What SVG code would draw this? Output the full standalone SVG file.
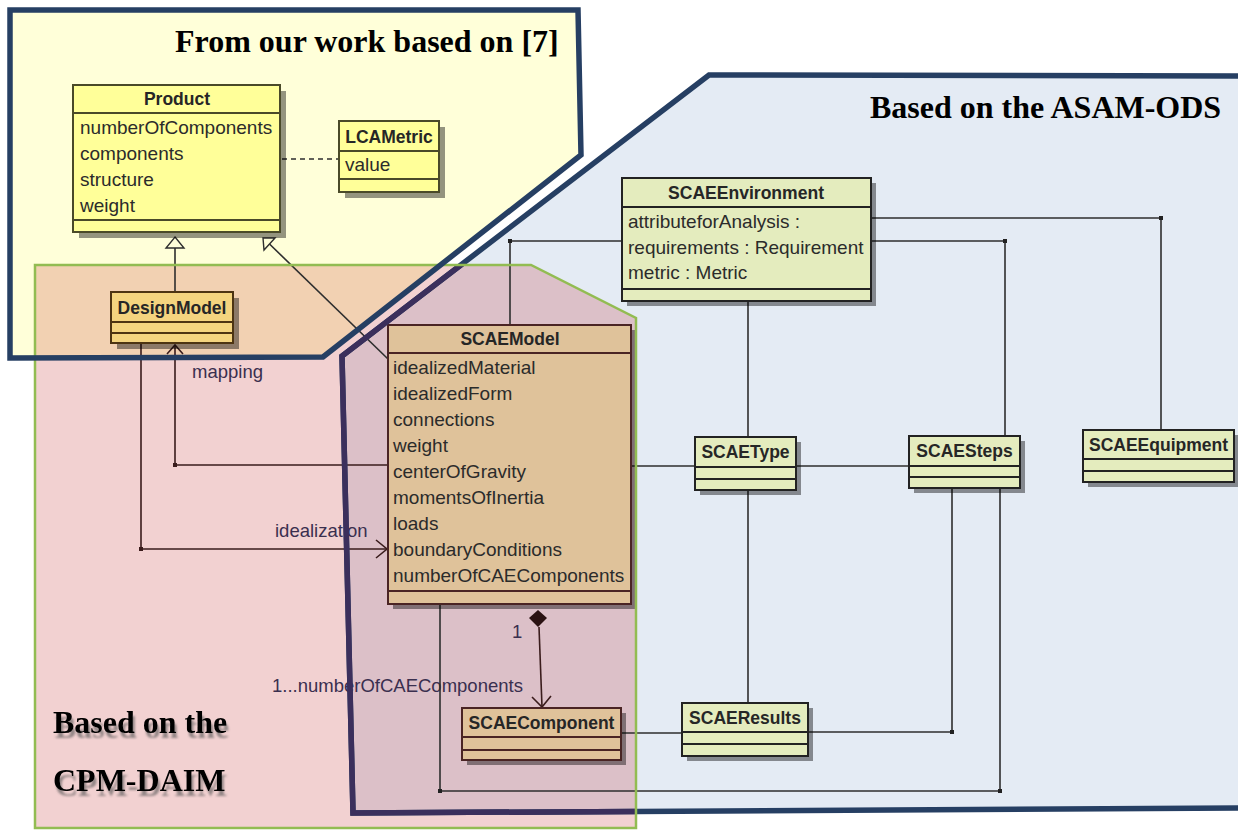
<svg xmlns="http://www.w3.org/2000/svg" width="1238" height="831" viewBox="0 0 1238 831">
  <style>
    .hdr { font-family: "Liberation Sans", Arial, sans-serif; font-size: 17.5px; font-weight: bold; fill: #262626; text-anchor: middle; }
    .attr { font-family: "Liberation Sans", Arial, sans-serif; font-size: 19px; fill: #2b2b2b; }
    .lbl { font-family: "Liberation Sans", Arial, sans-serif; font-size: 18.5px; fill: #3a2f4f; }
    .title { font-family: "Liberation Serif", "Times New Roman", serif; font-size: 32px; font-weight: bold; fill: #000; }
    .shadow { fill: #000; opacity: 0.42; }
    .sep { stroke-width: 2; }
    .cls-y rect.box { fill: #FFFF99; stroke: #4a4a28; stroke-width: 2; }
    .cls-y line { stroke: #4a4a28; }
    .cls-g rect.box { fill: #F4D47F; stroke: #4d3412; stroke-width: 2; }
    .cls-g line { stroke: #4d3412; }
    .cls-t rect.box { fill: #DFC29A; stroke: #4a2424; stroke-width: 2; }
    .cls-t line { stroke: #4a2424; }
    .cls-l rect.box { fill: #E4ECBE; stroke: #222; stroke-width: 2; }
    .cls-l line { stroke: #222; }
    .wire { fill: none; stroke: #2e2e2e; stroke-width: 1.6; }
    .wire-p { fill: none; stroke: #3a1c1c; stroke-width: 1.6; }
    .dot { fill: #222; }
    .dot-p { fill: #3a1c1c; }
  </style>
  <defs>
    <clipPath id="pinkArea">
      <path d="M35,265 L531,265 L636,318 L636,828 L35,828 Z"/>
    </clipPath>
    <!-- soft grey drop shadow for the CPM-DAIM heading -->
    <filter id="textShadow" x="-10%" y="-30%" width="130%" height="170%">
      <feGaussianBlur in="SourceAlpha" stdDeviation="1.3" result="blur"/>
      <feOffset in="blur" dx="2" dy="5" result="off"/>
      <feFlood flood-color="#555" flood-opacity="0.6"/>
      <feComposite in2="off" operator="in" result="shade"/>
      <feMerge>
        <feMergeNode in="shade"/>
        <feMergeNode in="SourceGraphic"/>
      </feMerge>
    </filter>
  </defs>

  <rect width="1238" height="831" fill="#FFFFFF"/>

  <!-- package backgrounds -->
  <g id="region-fills">
    <path d="M10,10 L578,10 L581,155 L323,357 L10,358 Z" fill="#FFFFD9"/>
    <path d="M709,75 L1250,76 L1250,808 L353,813 L342,356 Z" fill="#E4EBF4"/>
    <path d="M35,265 L531,265 L636,318 L636,828 L35,828 Z" fill="#B70000" fill-opacity="0.18"/>
  </g>

  <!-- package titles -->
  <g id="titles">
    <text class="title" x="175" y="52">From our work based on [7]</text>
    <text class="title" x="870" y="118">Based on the ASAM-ODS</text>
    <text class="title" x="53" y="733" filter="url(#textShadow)">Based on the</text>
    <text class="title" x="53" y="791" filter="url(#textShadow)">CPM-DAIM</text>
  </g>

  <!-- associations, generalizations and composition -->
  <g id="connectors">
    <!-- DesignModel generalizes Product -->
    <path class="wire" d="M175,292 V248"/>
    <path d="M175,237 L184,248 L166,248 Z" fill="#FFFFD9" stroke="#2e2e2e" stroke-width="1.4"/>
    <!-- SCAEModel generalizes Product -->
    <path class="wire" d="M388,359 L269.5,244"/>
    <path d="M263,238 L275,238 L264,250 Z" fill="#FFFFD9" stroke="#2e2e2e" stroke-width="1.4"/>
    <!-- Product to LCAMetric -->
    <path class="wire" d="M282,159 H339" stroke-dasharray="5,4"/>

    <!-- mapping -->
    <path class="wire-p" d="M388,465 H175 V345"/>
    <path class="wire-p" d="M167,354 L175,345 L183,354"/>
    <rect class="dot-p" x="173" y="463" width="4" height="4"/>
    <text class="lbl" x="192" y="378">mapping</text>

    <!-- idealization -->
    <path class="wire-p" d="M141,343 V549 H387"/>
    <path class="wire-p" d="M376,540 L387,549 L376,558"/>
    <rect class="dot-p" x="139" y="547" width="4" height="4"/>
    <text class="lbl" x="275" y="537">idealization</text>

    <!-- composition SCAEModel to SCAEComponent -->
    <path d="M538,610 L547,618 L538,627 L529,618 Z" fill="#2a1212"/>
    <path class="wire-p" d="M539,627 L542,707"/>
    <path class="wire-p" d="M532,697 L542,707 L551,696"/>
    <text class="lbl" x="512" y="638">1</text>
    <text class="lbl" x="272" y="692">1...numberOfCAEComponents</text>

    <!-- SCAEEnvironment links -->
    <path class="wire" d="M622,241 H510 V325"/>
    <rect class="dot" x="508" y="239" width="4" height="4"/>
    <path class="wire" d="M871,218 H1161 V430"/>
    <rect class="dot" x="1159" y="216" width="4" height="4"/>
    <path class="wire" d="M871,241 H1005 V436"/>
    <rect class="dot" x="1003" y="239" width="4" height="4"/>
    <path class="wire" d="M748,301 V437"/>

    <!-- SCAEType links -->
    <path class="wire" d="M748,490 V703"/>
    <path class="wire" d="M631,466 H695"/>
    <path class="wire" d="M796,466 H909"/>

    <!-- SCAESteps links -->
    <path class="wire" d="M952,488 V732 H808"/>
    <rect class="dot" x="950" y="730" width="4" height="4"/>
    <path class="wire" d="M621,733 H682"/>
    <path class="wire" d="M440,604 V791 H1000 V488"/>
    <rect class="dot" x="438" y="789" width="4" height="4"/>
    <rect class="dot" x="998" y="789" width="4" height="4"/>
  </g>

  <!-- classes -->
  <g id="Product" class="cls-y">
    <rect class="shadow" x="79" y="91" width="207" height="147"/>
    <rect class="box" x="73" y="85" width="207" height="147"/>
    <line class="sep" x1="73" y1="113" x2="280" y2="113"/>
    <line class="sep" x1="73" y1="220" x2="280" y2="220"/>
    <text class="hdr" x="177" y="105">Product</text>
    <text class="attr" x="80" y="134">numberOfComponents</text>
    <text class="attr" x="80" y="160">components</text>
    <text class="attr" x="80" y="186">structure</text>
    <text class="attr" x="80" y="212">weight</text>
  </g>

  <g id="LCAMetric" class="cls-y">
    <rect class="shadow" x="345" y="127" width="100" height="71"/>
    <rect class="box" x="339" y="121" width="100" height="71"/>
    <line class="sep" x1="339" y1="151" x2="439" y2="151"/>
    <line class="sep" x1="339" y1="179" x2="439" y2="179"/>
    <text class="hdr" x="389" y="143">LCAMetric</text>
    <text class="attr" x="345" y="171">value</text>
  </g>

  <g id="DesignModel" class="cls-g">
    <rect class="shadow" x="117" y="298" width="122" height="51"/>
    <rect class="box" x="111" y="292" width="122" height="51"/>
    <line class="sep" x1="111" y1="322" x2="233" y2="322"/>
    <line class="sep" x1="111" y1="333" x2="233" y2="333"/>
    <text class="hdr" x="172" y="314">DesignModel</text>
  </g>

  <g id="SCAEModel" class="cls-t">
    <rect class="shadow" x="393" y="330" width="243" height="279"/>
    <rect class="box" x="388" y="325" width="243" height="279"/>
    <line class="sep" x1="388" y1="353" x2="631" y2="353"/>
    <line class="sep" x1="388" y1="591" x2="631" y2="591"/>
    <text class="hdr" x="510" y="345">SCAEModel</text>
    <text class="attr" x="393" y="374">idealizedMaterial</text>
    <text class="attr" x="393" y="400">idealizedForm</text>
    <text class="attr" x="393" y="426">connections</text>
    <text class="attr" x="393" y="452">weight</text>
    <text class="attr" x="393" y="478">centerOfGravity</text>
    <text class="attr" x="393" y="504">momentsOfInertia</text>
    <text class="attr" x="393" y="530">loads</text>
    <text class="attr" x="393" y="556">boundaryConditions</text>
    <text class="attr" x="393" y="582">numberOfCAEComponents</text>
  </g>

  <g id="SCAEComponent" class="cls-t">
    <rect class="shadow" x="467" y="713" width="159" height="52"/>
    <rect class="box" x="462" y="708" width="159" height="52"/>
    <line class="sep" x1="462" y1="737" x2="621" y2="737"/>
    <line class="sep" x1="462" y1="750" x2="621" y2="750"/>
    <text class="hdr" x="541.5" y="729">SCAEComponent</text>
  </g>

  <g id="SCAEEnvironment" class="cls-l">
    <rect class="shadow" x="627" y="183" width="249" height="123"/>
    <rect class="box" x="622" y="178" width="249" height="123"/>
    <line class="sep" x1="622" y1="207" x2="871" y2="207"/>
    <line class="sep" x1="622" y1="289" x2="871" y2="289"/>
    <text class="hdr" x="746" y="199" textLength="156" lengthAdjust="spacingAndGlyphs">SCAEEnvironment</text>
    <text class="attr" x="628" y="228">attributeforAnalysis :</text>
    <text class="attr" x="628" y="254">requirements : Requirement</text>
    <text class="attr" x="628" y="279">metric : Metric</text>
  </g>

  <g id="SCAEType" class="cls-l">
    <rect class="shadow" x="700" y="442" width="101" height="53"/>
    <rect class="box" x="695" y="437" width="101" height="53"/>
    <line class="sep" x1="695" y1="467" x2="796" y2="467"/>
    <line class="sep" x1="695" y1="479" x2="796" y2="479"/>
    <text class="hdr" x="745.5" y="458">SCAEType</text>
  </g>

  <g id="SCAESteps" class="cls-l">
    <rect class="shadow" x="914" y="441" width="111" height="52"/>
    <rect class="box" x="909" y="436" width="111" height="52"/>
    <line class="sep" x1="909" y1="466" x2="1020" y2="466"/>
    <line class="sep" x1="909" y1="477" x2="1020" y2="477"/>
    <text class="hdr" x="964.5" y="457">SCAESteps</text>
  </g>

  <g id="SCAEEquipment" class="cls-l">
    <rect class="shadow" x="1088" y="435" width="151" height="52"/>
    <rect class="box" x="1083" y="430" width="151" height="52"/>
    <line class="sep" x1="1083" y1="459" x2="1234" y2="459"/>
    <line class="sep" x1="1083" y1="471" x2="1234" y2="471"/>
    <text class="hdr" x="1158.5" y="451" textLength="139" lengthAdjust="spacingAndGlyphs">SCAEEquipment</text>
  </g>

  <g id="SCAEResults" class="cls-l">
    <rect class="shadow" x="687" y="708" width="126" height="53"/>
    <rect class="box" x="682" y="703" width="126" height="53"/>
    <line class="sep" x1="682" y1="732" x2="808" y2="732"/>
    <line class="sep" x1="682" y1="744" x2="808" y2="744"/>
    <text class="hdr" x="745" y="724">SCAEResults</text>
  </g>

  <!-- package outlines -->
  <g id="region-borders">
    <path d="M1250,76 L709,75 L342,356 L353,813 L1250,808" fill="none" stroke="#263f63" stroke-width="5.5" stroke-linejoin="miter"/>
    <path d="M1250,76 L709,75 L342,356 L353,813 L1250,808" fill="none" stroke="#3b2f5c" stroke-width="5.5" stroke-linejoin="miter" clip-path="url(#pinkArea)"/>
    <path d="M35,265 L531,265 L636,318 L636,828 L35,828 Z" fill="none" stroke="#92BC52" stroke-width="2.5"/>
    <path d="M10,10 L578,10 L581,155 L323,357 L10,358 Z" fill="none" stroke="#263f63" stroke-width="5.5" stroke-linejoin="miter"/>
  </g>
</svg>
